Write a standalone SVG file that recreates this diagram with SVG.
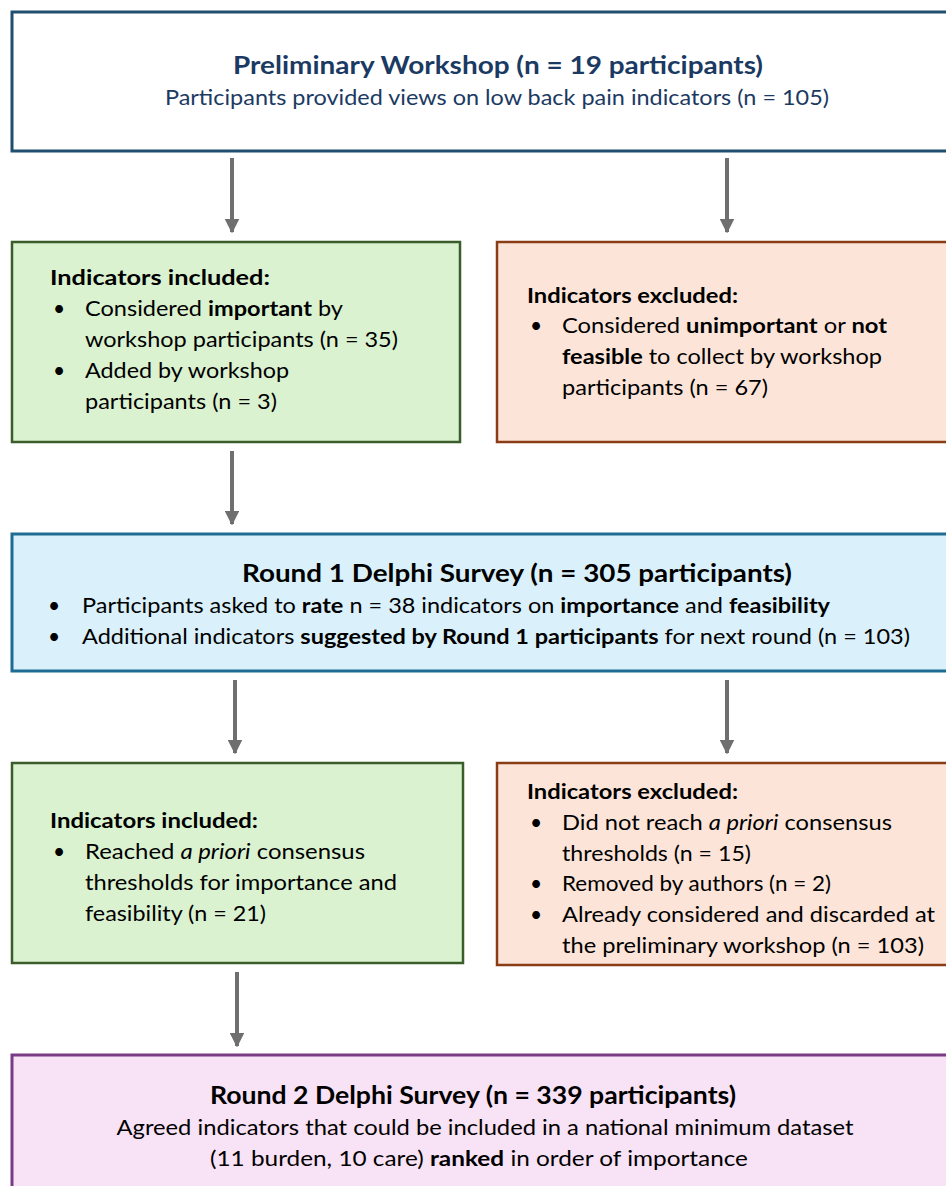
<svg xmlns="http://www.w3.org/2000/svg" width="946" height="1186" viewBox="0 0 946 1186">
<defs>
<marker id="ah" viewBox="0 0 10 10" refX="9" refY="5" markerWidth="3.6" markerHeight="3.6" orient="auto" markerUnits="strokeWidth">
<path d="M0,0 L10,5 L0,10 Z" fill="#6f6f6f"/>
</marker>
<style>
text{font-family:Lato,"Open Sans","Liberation Sans",sans-serif;font-size:21px;fill:#000}
.t{font-size:25px;font-weight:bold}
.h{font-weight:bold}
.b{font-weight:bold}
.i{font-style:italic}
.navy{fill:#1b3a63}
.c{text-anchor:middle}
.conn line{stroke:#6f6f6f;stroke-width:4;marker-end:url(#ah)}
</style>
</defs>
<rect width="946" height="1186" fill="#fff"/>

<g id="workshop">
<rect x="12" y="12" width="960" height="139" fill="#fff" stroke="#1f4e6e" stroke-width="3"/>
<text class="t navy c" x="498" y="74" textLength="530" lengthAdjust="spacingAndGlyphs">Preliminary Workshop (n = 19 participants)</text>
<text class="navy c" x="497" y="105" textLength="664" lengthAdjust="spacingAndGlyphs">Participants provided views on low back pain indicators (n = 105)</text>
</g>

<g id="included1">
<rect x="12" y="242" width="448" height="200" fill="#daf2d0" stroke="#3a5e2a" stroke-width="2.5"/>
<text class="h" x="50" y="285" textLength="220" lengthAdjust="spacingAndGlyphs">Indicators included:</text>
<text x="53" y="316">•</text>
<text x="85" y="316" textLength="258" lengthAdjust="spacingAndGlyphs">Considered <tspan class="b">important</tspan> by</text>
<text x="85" y="347" textLength="313" lengthAdjust="spacingAndGlyphs">workshop participants (n = 35)</text>
<text x="53" y="378">•</text>
<text x="85" y="378" textLength="204" lengthAdjust="spacingAndGlyphs">Added by workshop</text>
<text x="85" y="409" textLength="192" lengthAdjust="spacingAndGlyphs">participants (n = 3)</text>
</g>

<g id="excluded1">
<rect x="497" y="242" width="470" height="200" fill="#fce5d8" stroke="#8a3d14" stroke-width="2.5"/>
<text class="h" x="527" y="303" textLength="211" lengthAdjust="spacingAndGlyphs">Indicators excluded:</text>
<text x="530" y="333">•</text>
<text x="562" y="333" textLength="325" lengthAdjust="spacingAndGlyphs">Considered <tspan class="b">unimportant</tspan> or <tspan class="b">not</tspan></text>
<text x="562" y="364" textLength="320" lengthAdjust="spacingAndGlyphs"><tspan class="b">feasible</tspan> to collect by workshop</text>
<text x="562" y="395" textLength="206" lengthAdjust="spacingAndGlyphs">participants (n = 67)</text>
</g>

<g id="round1">
<rect x="12" y="534" width="960" height="137" fill="#daf1fb" stroke="#1e6c93" stroke-width="3"/>
<text class="t c" x="517" y="582" textLength="550" lengthAdjust="spacingAndGlyphs">Round 1 Delphi Survey (n = 305 participants)</text>
<text x="48" y="613">•</text>
<text x="82" y="613" textLength="748" lengthAdjust="spacingAndGlyphs">Participants asked to <tspan class="b">rate</tspan> n = 38 indicators on <tspan class="b">importance</tspan> and <tspan class="b">feasibility</tspan></text>
<text x="48" y="644">•</text>
<text x="82" y="644" textLength="828" lengthAdjust="spacingAndGlyphs">Additional indicators <tspan class="b">suggested by Round 1 participants</tspan> for next round (n = 103)</text>
</g>

<g id="included2">
<rect x="12" y="763" width="451" height="200" fill="#daf2d0" stroke="#3a5e2a" stroke-width="2.5"/>
<text class="h" x="50" y="828" textLength="208" lengthAdjust="spacingAndGlyphs">Indicators included:</text>
<text x="53" y="859">•</text>
<text x="85" y="859" textLength="280" lengthAdjust="spacingAndGlyphs">Reached <tspan class="i">a priori</tspan> consensus</text>
<text x="85" y="890" textLength="312" lengthAdjust="spacingAndGlyphs">thresholds for importance and</text>
<text x="85" y="921" textLength="181" lengthAdjust="spacingAndGlyphs">feasibility (n = 21)</text>
</g>

<g id="excluded2">
<rect x="497" y="763" width="470" height="202" fill="#fce5d8" stroke="#8a3d14" stroke-width="2.5"/>
<text class="h" x="527" y="799" textLength="211" lengthAdjust="spacingAndGlyphs">Indicators excluded:</text>
<text x="530" y="830">•</text>
<text x="562" y="830" textLength="330" lengthAdjust="spacingAndGlyphs">Did not reach <tspan class="i">a priori</tspan> consensus</text>
<text x="562" y="861" textLength="189" lengthAdjust="spacingAndGlyphs">thresholds (n = 15)</text>
<text x="530" y="891">•</text>
<text x="562" y="891" textLength="269" lengthAdjust="spacingAndGlyphs">Removed by authors (n = 2)</text>
<text x="530" y="922">•</text>
<text x="562" y="922" textLength="373" lengthAdjust="spacingAndGlyphs">Already considered and discarded at</text>
<text x="562" y="953" textLength="362" lengthAdjust="spacingAndGlyphs">the preliminary workshop (n = 103)</text>
</g>

<g id="round2">
<rect x="12" y="1055" width="960" height="150" fill="#f8e2f5" stroke="#7a3b86" stroke-width="3"/>
<text class="t c" x="473" y="1104" textLength="526" lengthAdjust="spacingAndGlyphs">Round 2 Delphi Survey (n = 339 participants)</text>
<text class="c" x="485" y="1135" textLength="737" lengthAdjust="spacingAndGlyphs">Agreed indicators that could be included in a national minimum dataset</text>
<text class="c" x="479" y="1166" textLength="538" lengthAdjust="spacingAndGlyphs">(11 burden, 10 care) <tspan class="b">ranked</tspan> in order of importance</text>
</g>

<g id="connectors" class="conn">
<line x1="232" y1="158" x2="232" y2="232"/>
<line x1="727" y1="158" x2="727" y2="232"/>
<line x1="232" y1="451" x2="232" y2="524"/>
<line x1="235" y1="680" x2="235" y2="753"/>
<line x1="727" y1="680" x2="727" y2="753"/>
<line x1="237" y1="972" x2="237" y2="1046"/>
</g>
</svg>
